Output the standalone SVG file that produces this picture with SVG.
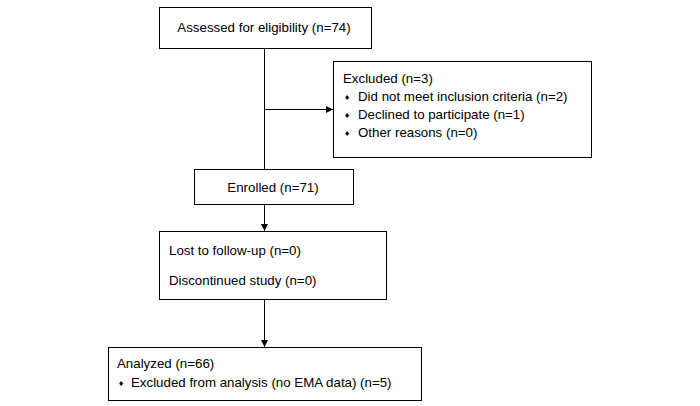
<svg xmlns="http://www.w3.org/2000/svg" width="700" height="406" viewBox="0 0 700 406">
<style>
.box{fill:#fff;stroke:#000;stroke-width:1}
.t{font-family:"Liberation Sans",Arial,sans-serif;font-size:13.3px;fill:#000}
.c{text-anchor:middle}
.b{font-family:"DejaVu Sans",sans-serif;font-size:7px;fill:#000}
.ln{stroke:#000;stroke-width:1;fill:none}
</style>
<defs>
<marker id="ah" markerWidth="8" markerHeight="8" refX="7" refY="4" orient="auto" markerUnits="userSpaceOnUse">
<path d="M0,0.5 L7,4 L0,7.5 Z" fill="#000"/>
</marker>
</defs>
<rect width="700" height="406" fill="#fff"/>
<g id="connectors">
<line class="ln" x1="264.5" y1="48" x2="264.5" y2="169"/>
<line class="ln" x1="264.5" y1="109.5" x2="333" y2="109.5" marker-end="url(#ah)"/>
<line class="ln" x1="264.5" y1="205" x2="264.5" y2="231" marker-end="url(#ah)"/>
<line class="ln" x1="264.5" y1="300" x2="264.5" y2="347" marker-end="url(#ah)"/>
</g>
<g id="n1">
<rect class="box" x="159.5" y="7.5" width="212" height="41"/>
<text class="t c" x="264" y="32">Assessed for eligibility (n=74)</text>
</g>
<g id="n2">
<rect class="box" x="333.5" y="61.5" width="258" height="96"/>
<text class="t" x="343" y="83">Excluded (n=3)</text>
<text class="b" x="344" y="100">♦</text><text class="t" x="358" y="101">Did not meet inclusion criteria (n=2)</text>
<text class="b" x="344" y="118">♦</text><text class="t" x="358" y="119">Declined to participate (n=1)</text>
<text class="b" x="344" y="136">♦</text><text class="t" x="358" y="137">Other reasons (n=0)</text>
</g>
<g id="n3">
<rect class="box" x="194.5" y="169.5" width="159" height="35"/>
<text class="t c" x="273" y="192">Enrolled (n=71)</text>
</g>
<g id="n4">
<rect class="box" x="159.5" y="231.5" width="227" height="68"/>
<text class="t" x="169" y="255">Lost to follow-up (n=0)</text>
<text class="t" x="169" y="285">Discontinued study (n=0)</text>
</g>
<g id="n5">
<rect class="box" x="108.5" y="347.5" width="313" height="53"/>
<text class="t" x="117" y="368">Analyzed (n=66)</text>
<text class="b" x="118" y="386">♦</text><text class="t" x="131" y="387">Excluded from analysis (no EMA data) (n=5)</text>
</g>
</svg>
